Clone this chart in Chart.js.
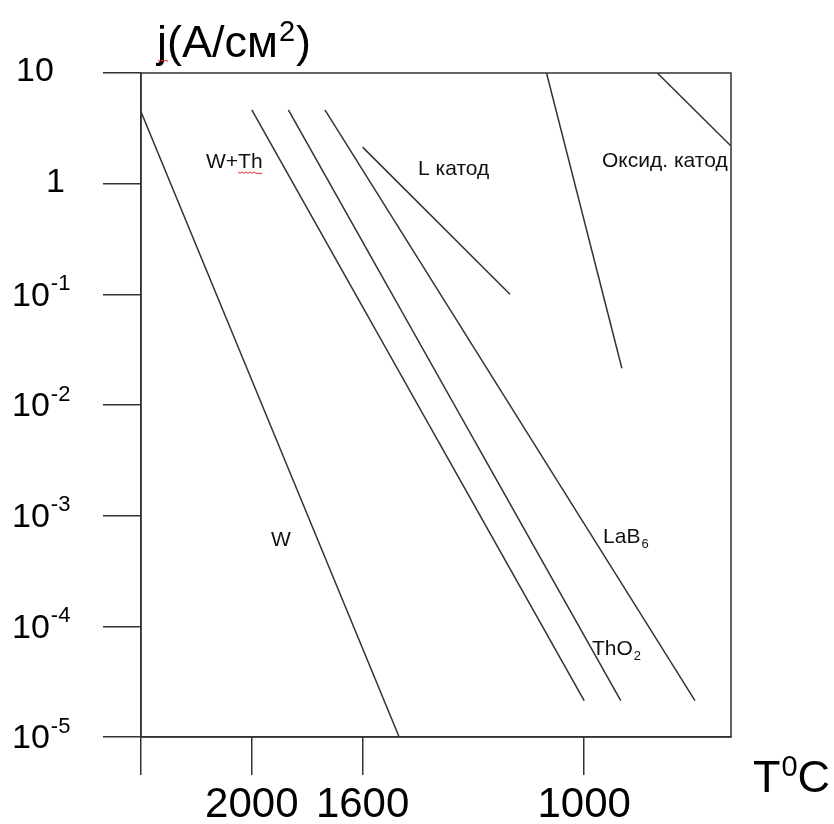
<!DOCTYPE html>
<html>
<head>
<meta charset="utf-8">
<script src="https://cdn.jsdelivr.net/npm/chart.js@4.4.1/dist/chart.umd.min.js"></script>
<style>
  html, body { margin: 0; padding: 0; background: #fff; }
</style>
</head>
<body>
<canvas id="emission" width="834" height="824"></canvas>
<script>
// деления шкалы температур (условные единицы по оси) и подписи к ним
var tPos = [0, 1, 2, 4];
var tLabels = ['', '2000', '1600', '1000'];

// декады плотности тока и показатели степени для подписей
var jTicks = [10, 1, 0.1, 0.01, 0.001, 0.0001, 0.00001];
var jExp = [null, null, -1, -2, -3, -4, -5];

// прямые эмиссии: начало и конец каждой
var wX = [0, 2.33],       wJ = [4.47, 1e-5];
var wthX = [1.0, 4.0],    wthJ = [4.64, 2.13e-5];
var tho2X = [1.33, 4.33], tho2J = [4.64, 2.13e-5];
var lab6X = [1.66, 5.0],  lab6J = [4.64, 2.13e-5];
var lX = [2.0, 3.33],     lJ = [2.14, 0.1];
var oxAX = [3.66, 4.34],  oxAJ = [10, 0.0215];
var oxBX = [4.66, 5.325], oxBJ = [10, 2.19];

// подписи катодов: текст, индекс, точка привязки (левый край, базовая линия)
var noteText = ['W+Th', 'L катод', 'Оксид. катод', 'W', 'LaB', 'ThO'];
var noteSub  = ['', '', '', '', '6', '2'];
var noteX    = [0.587, 2.50, 4.161, 1.173, 4.170, 4.070];
var noteJ    = [1.39, 1.20, 1.41, 5.32e-4, 5.66e-4, 5.51e-5];

var FONT = '"Liberation Sans", Arial, sans-serif';
var INK = '#333';

function pts(xs, js) {
  return xs.map(function (x, i) { return { x: x, y: js[i] }; });
}

function line(label, xs, js) {
  return {
    label: label,
    data: pts(xs, js),
    borderColor: INK,
    borderWidth: 1.5,
    pointRadius: 0,
    fill: false,
    tension: 0
  };
}

// текст со степенью или индексом, возвращает правый край
function drawScript(ctx, x, y, base, extra, size, up, ratio) {
  ctx.font = size + 'px ' + FONT;
  ctx.fillText(base, x, y);
  var w = ctx.measureText(base).width;
  if (!extra) return x + w;
  var s = Math.round(size * (ratio || 0.62));
  ctx.font = s + 'px ' + FONT;
  ctx.fillText(extra, x + w + 1, up ? y - size * 0.36 : y + size * 0.22);
  return x + w + 1 + ctx.measureText(extra).width;
}

// красное волнистое подчёркивание
function squiggle(ctx, x0, x1, y) {
  ctx.save();
  ctx.strokeStyle = '#e02020';
  ctx.lineWidth = 1;
  ctx.beginPath();
  ctx.moveTo(x0, y);
  for (var x = x0; x <= x1; x += 2) {
    ctx.lineTo(x, y + ((x - x0) % 4 === 0 ? 0 : 1.5));
  }
  ctx.stroke();
  ctx.restore();
}

var frameAndText = {
  id: 'frameAndText',
  afterDraw: function (chart) {
    var ctx = chart.ctx;
    var a = chart.chartArea;
    var xs = chart.scales.x;
    var ys = chart.scales.y;

    ctx.save();
    ctx.strokeStyle = INK;
    ctx.lineWidth = 1.5;
    ctx.strokeRect(a.left, a.top, a.right - a.left, a.bottom - a.top);

    ctx.fillStyle = '#000';
    ctx.textBaseline = 'middle';
    ctx.textAlign = 'left';
    jTicks.forEach(function (v, i) {
      var y = ys.getPixelForValue(v);
      if (jExp[i] === null) {
        var txt = v === 10 ? '10' : '1';
        var lx = v === 10 ? 16 : 46;
        drawScript(ctx, lx, y - 1, txt, '', 34, true);
      } else {
        drawScript(ctx, 12, y + 2, '10', String(jExp[i]), 34, true, 0.66);
      }
    });

    ctx.textBaseline = 'alphabetic';
    var r = drawScript(ctx, 157, 57, 'j(A/см', '2', 45, true, 0.64);
    ctx.font = '45px ' + FONT;
    ctx.fillText(')', r + 1, 57);
    squiggle(ctx, 158, 169, 60);

    r = drawScript(ctx, 753, 792, 'T', '0', 45, true, 0.64);
    ctx.font = '45px ' + FONT;
    ctx.fillText('C', r, 792);

    ctx.fillStyle = '#111';
    noteText.forEach(function (t, i) {
      var px = xs.getPixelForValue(noteX[i]);
      var py = ys.getPixelForValue(noteJ[i]);
      drawScript(ctx, px, py, t, noteSub[i], 21, false);
      if (t === 'W+Th') {
        ctx.font = '21px ' + FONT;
        var x0 = px + ctx.measureText('W+').width;
        squiggle(ctx, x0, x0 + ctx.measureText('Th').width, py + 4);
      }
    });
    ctx.restore();
  }
};

var ctx = document.getElementById('emission').getContext('2d');
var emissionChart = new Chart(ctx, {
  type: 'line',
  data: {
    datasets: [
      line('W', wX, wJ),
      line('W+Th', wthX, wthJ),
      line('ThO2', tho2X, tho2J),
      line('LaB6', lab6X, lab6J),
      line('L катод', lX, lJ),
      line('Оксид. катод', oxAX, oxAJ),
      line('Оксид. катод ', oxBX, oxBJ)
    ]
  },
  options: {
    responsive: false,
    animation: false,
    layout: { padding: { top: 73, right: 103, left: 0, bottom: 0 } },
    plugins: {
      legend: { display: false },
      tooltip: { enabled: false }
    },
    scales: {
      x: {
        type: 'linear',
        min: 0,
        max: 5.325,
        afterBuildTicks: function (axis) {
          axis.ticks = tPos.map(function (v) { return { value: v }; });
        },
        afterFit: function (axis) { axis.height = 87; },
        ticks: {
          autoSkip: false,
          maxRotation: 0,
          padding: 5,
          color: '#000',
          font: { family: FONT, size: 42 },
          callback: function (v) { return tLabels[tPos.indexOf(v)]; }
        },
        grid: { drawOnChartArea: false, tickLength: 38, color: INK, lineWidth: 1.5 },
        border: { color: INK, width: 1.5 }
      },
      y: {
        type: 'logarithmic',
        min: 1e-5,
        max: 10,
        afterBuildTicks: function (axis) {
          axis.ticks = jTicks.map(function (v) { return { value: v }; });
        },
        afterFit: function (axis) { axis.width = 141; },
        ticks: { display: false },
        grid: { drawOnChartArea: false, tickLength: 38, color: INK, lineWidth: 1.5 },
        border: { color: INK, width: 1.5 }
      }
    }
  },
  plugins: [frameAndText]
});
</script>
</body>
</html>
